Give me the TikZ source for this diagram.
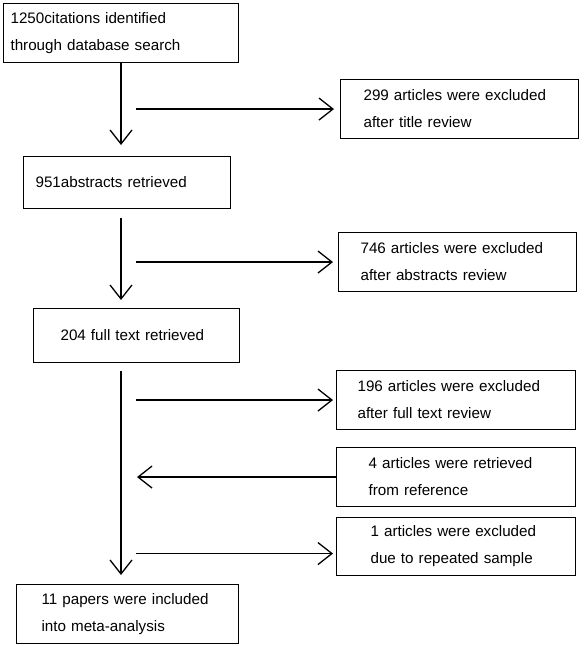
\documentclass[tikz,border=0pt]{standalone}
\usepackage{fontspec}
\setmainfont{Liberation Sans}
\usetikzlibrary{arrows.meta}

\tikzset{box/.style={draw, line width=1.1pt, anchor=north west, align=left, inner ysep=0pt, font=\fontsize{15.2}{27}\selectfont}}
\tikzset{arr/.style={line width=1.3pt, -{Straight Barb[length=14pt,width=22pt]}}}

\begin{document}
\begin{tikzpicture}[x=1pt, y=-1pt]%[pixel grid of the original]
  \useasboundingbox (0,0) rectangle (584,646);
  \coordinate (trunk) at (121,0);
  \coordinate (branch) at (136,0);
  % main column
  \node [box, text width=221pt, inner xsep=7pt, minimum height=59pt] (cit) at (3,3) {1250citations identified\\through database search};
  \node [box, text width=183pt, inner xsep=12pt, minimum height=52pt] (abs) at (23,156) {951abstracts retrieved};
  \node [box, text width=152pt, inner xsep=27pt, minimum height=54pt] (ful) at (33,308) {204 full text retrieved};
  \node [box, text width=172pt, inner xsep=25pt, minimum height=59pt] (inc) at (16,584) {11 papers were included\\into meta-analysis};
  % side boxes
  \node [box, text width=192pt, inner xsep=23pt, minimum height=59pt] (ttl) at (340,79) {299 articles were excluded\\after title review};
  \node [box, text width=194pt, inner xsep=22pt, minimum height=59pt] (abx) at (338,232) {746 articles were excluded\\after abstracts review};
  \node [box, text width=197pt, inner xsep=21pt, minimum height=59pt] (fux) at (336,370) {196 articles were excluded\\after full text review};
  \node [box, text width=175pt, inner xsep=32pt, minimum height=59pt] (ref) at (336,447) {4 articles were retrieved\\from reference};
  \node [box, text width=171pt, inner xsep=34pt, minimum height=58pt] (rep) at (336,517) {1 articles were excluded\\due to repeated sample};
  % arrows
  \draw [arr] (cit.south -| trunk) -- ([yshift=11pt]abs.north -| trunk);
  \draw [arr] ([yshift=-9pt]abs.south -| trunk) -- ([yshift=8pt]ful.north -| trunk);
  \draw [arr] ([yshift=-8pt]ful.south -| trunk) -- ([yshift=9pt]inc.north -| trunk);
  \draw [arr] (branch |- ttl.west) -- ([xshift=-6pt]ttl.west);
  \draw [arr] (branch |- abx.west) -- ([xshift=-5pt]abx.west);
  \draw [arr] (branch |- fux.west) -- ([xshift=-3pt]fux.west);
  \draw [arr] (ref.west) -- ([xshift=1pt]branch |- ref.west);
  \draw [arr] ([yshift=-7pt]branch |- rep.west) -- ([xshift=-3pt,yshift=-7pt]rep.west);
\end{tikzpicture}
\end{document}
